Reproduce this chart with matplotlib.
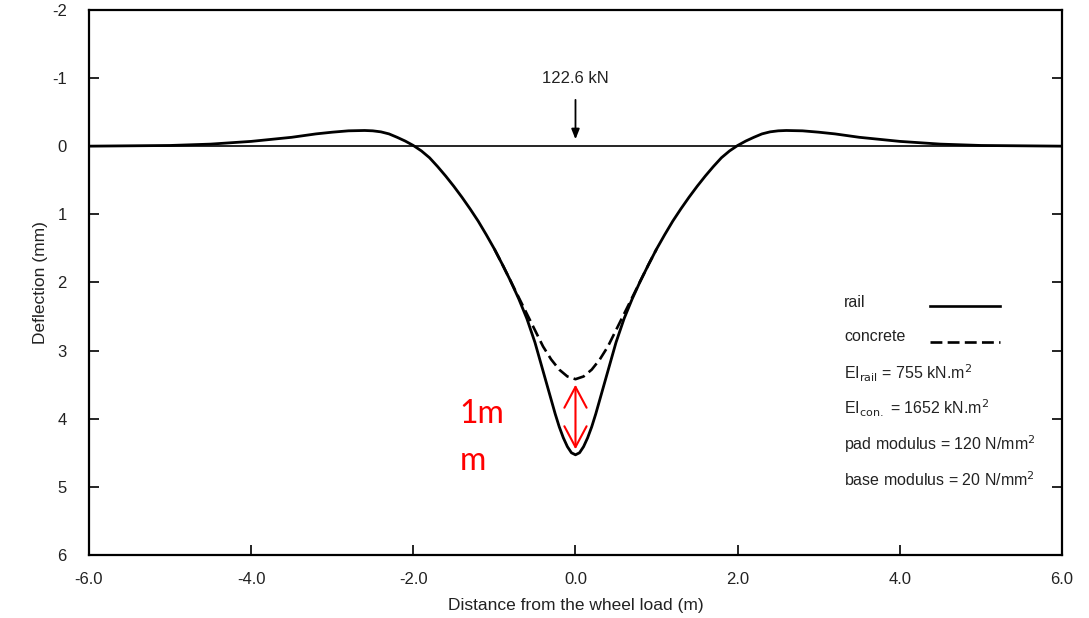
import numpy as np
import matplotlib.pyplot as plt

plt.rcParams['font.family'] = ['Liberation Sans', 'DejaVu Sans']
plt.rcParams['axes.unicode_minus'] = False

# deflection of the rail (mm), x in m (left half)
x_left = [-6.0, -5.5, -5.0, -4.5, -4.0, -3.5, -3.2, -3.0, -2.8, -2.6, -2.5, -2.4,
          -2.3, -2.2, -2.1, -2.0, -1.9, -1.8, -1.7, -1.6, -1.5, -1.4, -1.3, -1.2,
          -1.1, -1.0, -0.9, -0.8, -0.7, -0.6, -0.5, -0.4, -0.3, -0.25, -0.2, -0.15,
          -0.1, -0.05, 0.0]
y_left = [0.0, -0.005, -0.01, -0.03, -0.07, -0.13, -0.18, -0.205, -0.225, -0.23, -0.225, -0.21,
          -0.18, -0.13, -0.075, -0.01, 0.07, 0.17, 0.30, 0.44, 0.59, 0.75, 0.92, 1.10,
          1.30, 1.51, 1.74, 1.98, 2.24, 2.53, 2.88, 3.30, 3.72, 3.93, 4.12, 4.28,
          4.41, 4.50, 4.53]
# the curve is symmetric about the wheel load
x_rail = x_left + [-v for v in x_left[-2::-1]]
y_rail = y_left + y_left[-2::-1]

# deflection of the concrete sleeper (mm), where it leaves the rail curve
x_conc = [-1.0, -0.9, -0.8, -0.7, -0.6, -0.5, -0.4, -0.3, -0.2, -0.1, 0.0,
          0.1, 0.2, 0.3, 0.4, 0.5, 0.6, 0.7, 0.8, 0.9, 1.0]
y_conc = [1.51, 1.74, 1.98, 2.22, 2.46, 2.70, 2.94, 3.13, 3.28, 3.38, 3.42,
          3.38, 3.28, 3.13, 2.94, 2.70, 2.46, 2.22, 1.98, 1.74, 1.51]

load_label = '122.6 kN'
params = ['EI$_{\\rm rail}$ = 755 kN.m$^2$',
          'EI$_{\\rm con.}$ = 1652 kN.m$^2$',
          'pad modulus = 120 N/mm$^2$',
          'base modulus = 20 N/mm$^2$']

fig = plt.figure(figsize=(10.89, 6.18), dpi=100)
ax = fig.add_axes([0.0817, 0.102, 0.8935, 0.882])

dash = (0, (4.5, 2))
ax.axhline(0, color='black', lw=1.2)
ax.plot(x_rail, y_rail, color='black', lw=2.0)
ax.plot(x_conc, y_conc, color='black', lw=1.9, ls=dash)

ax.set_xlim(-6, 6)
ax.set_ylim(6, -2)
ax.set_xticks([-6, -4, -2, 0, 2, 4, 6])
ax.set_xticklabels(['-6.0', '-4.0', '-2.0', '0.0', '2.0', '4.0', '6.0'])
ax.set_yticks(range(-2, 7))
ax.tick_params(axis='both', direction='in', length=7, width=1.2, labelsize=12, labelcolor='#222222')
ax.tick_params(axis='y', right=True, pad=16)
ax.tick_params(axis='x', pad=12)
for s in ax.spines.values():
    s.set_linewidth(1.6)

ax.set_xlabel('Distance from the wheel load (m)', fontsize=12.5, labelpad=8, color='#222222')
ax.set_ylabel('Deflection (mm)', fontsize=12.5, labelpad=3, color='#222222')

# wheel load arrow
ax.annotate('', xy=(0, -0.06), xytext=(0, -0.72),
            arrowprops=dict(arrowstyle='-|>,head_length=0.5,head_width=0.2', color='black',
                            lw=1.3, mutation_scale=12))
ax.text(0, -0.99, load_label, ha='center', va='center', fontsize=12, color='#222222')

# red 1 mm marker
ax.annotate('', xy=(0, y_left[-1] - 0.04), xytext=(0, y_conc[10] + 0.04),
            arrowprops=dict(arrowstyle='<->,head_length=0.75,head_width=0.4',
                            color='red', lw=1.5, mutation_scale=20))
ax.text(-1.43, 3.93, '1m', color='red', fontsize=23, va='center', ha='left', family='Lato')
ax.text(-1.43, 4.62, 'm', color='red', fontsize=23, va='center', ha='left', family='Lato')

# legend block
ax.text(0.776, 0.464, 'rail', transform=ax.transAxes, fontsize=11.5, va='center', color='#222222')
ax.text(0.776, 0.400, 'concrete', transform=ax.transAxes, fontsize=11.5, va='center', color='#222222')
ax.plot([0.864, 0.936], [0.457, 0.457], transform=ax.transAxes, color='black', lw=1.9)
ax.plot([0.864, 0.936], [0.391, 0.391], transform=ax.transAxes, color='black', lw=1.9, ls=dash)
for i, p in enumerate(params):
    ax.text(0.776, 0.334 - i * 0.0653, p, transform=ax.transAxes, fontsize=11.5,
            va='center', color='#222222')

fig.savefig('out.png', dpi=100)
